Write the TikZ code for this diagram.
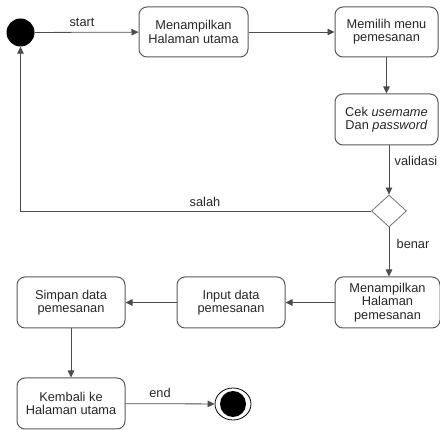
\documentclass[tikz,border=0pt]{standalone}
\usepackage{fontspec}
\setmainfont{Liberation Sans}
\usetikzlibrary{shapes.geometric,arrows.meta}
\begin{document}
\begin{tikzpicture}[x=1pt,y=-1pt,
  act/.style={draw=black!65, rounded corners=8pt, line width=1pt, align=center,
    font=\fontsize{12.8}{13.2}\selectfont, text=black!85, inner sep=0pt},
  flow/.style={draw=black!70, line width=0.8pt, -{Triangle[length=7pt,width=6.5pt]}},
  lbl/.style={font=\fontsize{12.8}{13.2}\selectfont, text=black!85, inner sep=0pt}]
\useasboundingbox (0,0) rectangle (440,430);

% states
\node[circle, fill=black, minimum size=28pt, inner sep=0pt] (start) at (20.5,32.5) {};
\node[act, minimum width=109pt, minimum height=50pt] (b1) at (193.5,32) {Menampilkan\\Halaman utama};
\node[act, minimum width=103pt, minimum height=50pt] (b2) at (386.5,32) {Memilih menu\\pemesanan};
\node[act, minimum width=103pt, minimum height=51pt] (b3) at (386.5,119.5) {Cek \textit{usemame}\\Dan \textit{password}};
\node[diamond, draw=black!55, line width=0.8pt, minimum width=35pt, minimum height=32pt, inner sep=0pt] (dec) at (389,211) {};
\node[act, minimum width=105pt, minimum height=51pt] (b4) at (387.5,302.5) {Menampilkan\\Halaman\\pemesanan};
\node[act, minimum width=108pt, minimum height=51pt] (b5) at (231,302.5) {Input data\\pemesanan};
\node[act, minimum width=108pt, minimum height=51pt] (b6) at (71,302.5) {Simpan data\\pemesanan};
\node[act, minimum width=108pt, minimum height=51pt] (b7) at (71,403.5) {Kembali ke\\Halaman utama};
\node[ellipse, draw=black, line width=0.8pt, fill=white, minimum width=36pt, minimum height=32pt, inner sep=0pt] (end) at (233,404) {};
\node[circle, fill=black, minimum size=26pt, inner sep=0pt] (endin) at (end.center) {};

% transitions
\draw[flow] (start) -- (b1);
\draw[flow] (b1) -- (b2);
\draw[flow] (b2) -- (b3);
\draw[flow] (b3.south -| dec.north) -- (dec.north);
\draw[flow] (dec.west) -| (start.south);
\draw[flow] (dec.south) -- (dec.south |- b4.north);
\draw[flow] (b4) -- (b5);
\draw[flow] (b5) -- (b6);
\draw[flow] (b6) -- (b7);
\draw[flow] (b7) -- (end);

% guards and labels
\node[lbl] (lstart) at (82,22) {start};
\node[lbl] (lval) at (416,161) {validasi};
\node[lbl] (lsalah) at (205,202) {salah};
\node[lbl] (lbenar) at (413,244) {benar};
\node[lbl] (lend) at (160,393) {end};
\end{tikzpicture}
\end{document}
